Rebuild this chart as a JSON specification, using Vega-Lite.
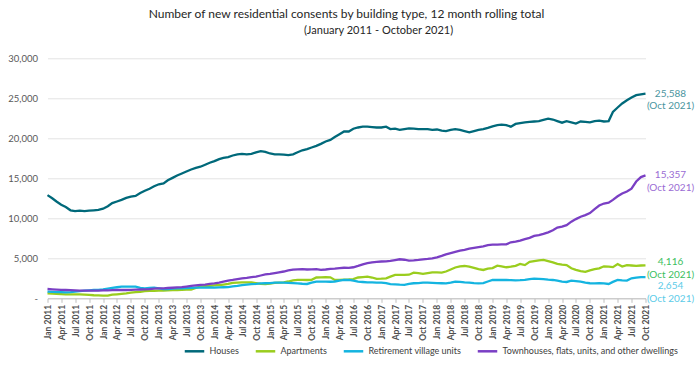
{
  "$schema": "https://vega.github.io/schema/vega-lite/v6.json",
  "width": 598,
  "height": 240,
  "autosize": "none",
  "padding": {"left": 47.5, "top": 58.3, "right": 52.5, "bottom": 77.7},
  "background": "white",
  "title": {
    "text": "Number of new residential consents by building type, 12 month rolling total",
    "subtitle": "\u2800\u2800\u2800\u2800\u2800\u2800\u2800\u2800(January 2011 - October 2021)",
    "font": "Lato",
    "fontSize": 12,
    "fontWeight": "normal",
    "color": "#262626",
    "subtitleFont": "Lato",
    "subtitleFontSize": 11,
    "subtitleColor": "#262626",
    "subtitlePadding": 4,
    "anchor": "middle",
    "offset": 16
  },
  "config": {
    "view": {"stroke": null},
    "font": "Lato"
  },
  "datasets": {
    "main": [
      {"d":"2011-01-01","H":12900,"A":620,"R":830,"T":1160},
      {"d":"2011-02-01","H":12500,"A":590,"R":800,"T":1120},
      {"d":"2011-03-01","H":12100,"A":560,"R":780,"T":1090},
      {"d":"2011-04-01","H":11700,"A":530,"R":760,"T":1060},
      {"d":"2011-05-01","H":11400,"A":500,"R":750,"T":1040},
      {"d":"2011-06-01","H":11000,"A":500,"R":780,"T":1010},
      {"d":"2011-07-01","H":10900,"A":500,"R":830,"T":980},
      {"d":"2011-08-01","H":10950,"A":500,"R":900,"T":960},
      {"d":"2011-09-01","H":10900,"A":470,"R":950,"T":955},
      {"d":"2011-10-01","H":10950,"A":420,"R":1000,"T":960},
      {"d":"2011-11-01","H":11000,"A":380,"R":1040,"T":960},
      {"d":"2011-12-01","H":11050,"A":370,"R":1040,"T":955},
      {"d":"2012-01-01","H":11200,"A":340,"R":1100,"T":980},
      {"d":"2012-02-01","H":11500,"A":330,"R":1200,"T":1000},
      {"d":"2012-03-01","H":11900,"A":450,"R":1300,"T":1020},
      {"d":"2012-04-01","H":12100,"A":500,"R":1380,"T":1040},
      {"d":"2012-05-01","H":12300,"A":560,"R":1460,"T":1040},
      {"d":"2012-06-01","H":12550,"A":620,"R":1460,"T":1040},
      {"d":"2012-07-01","H":12700,"A":700,"R":1460,"T":1050},
      {"d":"2012-08-01","H":12800,"A":760,"R":1450,"T":1080},
      {"d":"2012-09-01","H":13150,"A":820,"R":1300,"T":1100},
      {"d":"2012-10-01","H":13450,"A":900,"R":1250,"T":1120},
      {"d":"2012-11-01","H":13700,"A":920,"R":1300,"T":1150},
      {"d":"2012-12-01","H":14000,"A":940,"R":1330,"T":1200},
      {"d":"2013-01-01","H":14250,"A":950,"R":1250,"T":1230},
      {"d":"2013-02-01","H":14350,"A":960,"R":1150,"T":1250},
      {"d":"2013-03-01","H":14750,"A":990,"R":1140,"T":1290},
      {"d":"2013-04-01","H":15050,"A":1020,"R":1200,"T":1320},
      {"d":"2013-05-01","H":15350,"A":1040,"R":1240,"T":1360},
      {"d":"2013-06-01","H":15600,"A":1050,"R":1250,"T":1390},
      {"d":"2013-07-01","H":15850,"A":1080,"R":1270,"T":1470},
      {"d":"2013-08-01","H":16100,"A":1100,"R":1300,"T":1540},
      {"d":"2013-09-01","H":16300,"A":1300,"R":1330,"T":1620},
      {"d":"2013-10-01","H":16450,"A":1460,"R":1330,"T":1680},
      {"d":"2013-11-01","H":16700,"A":1520,"R":1340,"T":1720},
      {"d":"2013-12-01","H":16950,"A":1560,"R":1350,"T":1790},
      {"d":"2014-01-01","H":17150,"A":1620,"R":1330,"T":1870},
      {"d":"2014-02-01","H":17400,"A":1660,"R":1360,"T":1970},
      {"d":"2014-03-01","H":17550,"A":1720,"R":1380,"T":2080},
      {"d":"2014-04-01","H":17650,"A":1790,"R":1400,"T":2200},
      {"d":"2014-05-01","H":17850,"A":1920,"R":1500,"T":2290},
      {"d":"2014-06-01","H":18000,"A":1960,"R":1560,"T":2400},
      {"d":"2014-07-01","H":18050,"A":2000,"R":1650,"T":2500},
      {"d":"2014-08-01","H":18000,"A":2000,"R":1700,"T":2560},
      {"d":"2014-09-01","H":18050,"A":1980,"R":1760,"T":2650},
      {"d":"2014-10-01","H":18250,"A":1900,"R":1800,"T":2720},
      {"d":"2014-11-01","H":18400,"A":1800,"R":1870,"T":2850},
      {"d":"2014-12-01","H":18300,"A":1780,"R":1880,"T":2980},
      {"d":"2015-01-01","H":18100,"A":1850,"R":1900,"T":3050},
      {"d":"2015-02-01","H":18000,"A":1920,"R":1950,"T":3150},
      {"d":"2015-03-01","H":18000,"A":1960,"R":1960,"T":3250},
      {"d":"2015-04-01","H":17950,"A":2000,"R":1970,"T":3350},
      {"d":"2015-05-01","H":17900,"A":2100,"R":1940,"T":3480},
      {"d":"2015-06-01","H":18000,"A":2250,"R":1900,"T":3580},
      {"d":"2015-07-01","H":18250,"A":2300,"R":1870,"T":3620},
      {"d":"2015-08-01","H":18500,"A":2300,"R":1820,"T":3640},
      {"d":"2015-09-01","H":18650,"A":2290,"R":1790,"T":3600},
      {"d":"2015-10-01","H":18850,"A":2300,"R":1950,"T":3620},
      {"d":"2015-11-01","H":19050,"A":2600,"R":2080,"T":3640},
      {"d":"2015-12-01","H":19300,"A":2620,"R":2080,"T":3560},
      {"d":"2016-01-01","H":19600,"A":2640,"R":2080,"T":3600},
      {"d":"2016-02-01","H":19800,"A":2620,"R":2070,"T":3680},
      {"d":"2016-03-01","H":20150,"A":2300,"R":2100,"T":3720},
      {"d":"2016-04-01","H":20500,"A":2300,"R":2200,"T":3780},
      {"d":"2016-05-01","H":20850,"A":2320,"R":2290,"T":3820},
      {"d":"2016-06-01","H":20850,"A":2350,"R":2290,"T":3800},
      {"d":"2016-07-01","H":21200,"A":2400,"R":2200,"T":3880},
      {"d":"2016-08-01","H":21350,"A":2600,"R":2080,"T":4050},
      {"d":"2016-09-01","H":21450,"A":2650,"R":2040,"T":4250},
      {"d":"2016-10-01","H":21450,"A":2700,"R":2000,"T":4400},
      {"d":"2016-11-01","H":21400,"A":2600,"R":1980,"T":4500},
      {"d":"2016-12-01","H":21350,"A":2420,"R":1960,"T":4560},
      {"d":"2017-01-01","H":21350,"A":2450,"R":1960,"T":4600},
      {"d":"2017-02-01","H":21450,"A":2500,"R":1900,"T":4620},
      {"d":"2017-03-01","H":21150,"A":2700,"R":1760,"T":4680},
      {"d":"2017-04-01","H":21200,"A":2920,"R":1740,"T":4780},
      {"d":"2017-05-01","H":21050,"A":2930,"R":1700,"T":4880},
      {"d":"2017-06-01","H":21150,"A":2920,"R":1680,"T":4820},
      {"d":"2017-07-01","H":21250,"A":2950,"R":1800,"T":4720},
      {"d":"2017-08-01","H":21200,"A":3200,"R":1880,"T":4750},
      {"d":"2017-09-01","H":21150,"A":3150,"R":1900,"T":4800},
      {"d":"2017-10-01","H":21150,"A":3050,"R":1950,"T":4870},
      {"d":"2017-11-01","H":21150,"A":3150,"R":1960,"T":4920},
      {"d":"2017-12-01","H":21050,"A":3250,"R":1930,"T":5000},
      {"d":"2018-01-01","H":21100,"A":3230,"R":1900,"T":5120},
      {"d":"2018-02-01","H":20950,"A":3210,"R":1880,"T":5300},
      {"d":"2018-03-01","H":20900,"A":3350,"R":1870,"T":5500},
      {"d":"2018-04-01","H":21050,"A":3600,"R":1950,"T":5650},
      {"d":"2018-05-01","H":21150,"A":3850,"R":2080,"T":5800},
      {"d":"2018-06-01","H":21050,"A":4000,"R":2050,"T":5950},
      {"d":"2018-07-01","H":20900,"A":4040,"R":1980,"T":6050},
      {"d":"2018-08-01","H":20750,"A":3950,"R":1960,"T":6200},
      {"d":"2018-09-01","H":20900,"A":3800,"R":1900,"T":6300},
      {"d":"2018-10-01","H":21050,"A":3650,"R":1870,"T":6400},
      {"d":"2018-11-01","H":21150,"A":3540,"R":1900,"T":6500},
      {"d":"2018-12-01","H":21300,"A":3700,"R":2100,"T":6650},
      {"d":"2019-01-01","H":21500,"A":3780,"R":2290,"T":6700},
      {"d":"2019-02-01","H":21650,"A":4080,"R":2290,"T":6720},
      {"d":"2019-03-01","H":21700,"A":4000,"R":2290,"T":6740},
      {"d":"2019-04-01","H":21650,"A":3880,"R":2290,"T":6750},
      {"d":"2019-05-01","H":21450,"A":3950,"R":2270,"T":7000},
      {"d":"2019-06-01","H":21800,"A":4050,"R":2250,"T":7080},
      {"d":"2019-07-01","H":21900,"A":4290,"R":2260,"T":7200},
      {"d":"2019-08-01","H":22000,"A":4150,"R":2290,"T":7400},
      {"d":"2019-09-01","H":22050,"A":4550,"R":2400,"T":7550},
      {"d":"2019-10-01","H":22100,"A":4650,"R":2460,"T":7800},
      {"d":"2019-11-01","H":22150,"A":4750,"R":2440,"T":7900},
      {"d":"2019-12-01","H":22300,"A":4800,"R":2400,"T":8050},
      {"d":"2020-01-01","H":22450,"A":4650,"R":2330,"T":8250},
      {"d":"2020-02-01","H":22350,"A":4500,"R":2290,"T":8500},
      {"d":"2020-03-01","H":22150,"A":4300,"R":2200,"T":8850},
      {"d":"2020-04-01","H":21950,"A":4200,"R":2080,"T":8960},
      {"d":"2020-05-01","H":22150,"A":4150,"R":2040,"T":9150},
      {"d":"2020-06-01","H":22000,"A":3750,"R":2200,"T":9580},
      {"d":"2020-07-01","H":21850,"A":3550,"R":2150,"T":9900},
      {"d":"2020-08-01","H":22100,"A":3400,"R":2080,"T":10200},
      {"d":"2020-09-01","H":22050,"A":3300,"R":1950,"T":10400},
      {"d":"2020-10-01","H":22000,"A":3500,"R":1880,"T":10650},
      {"d":"2020-11-01","H":22150,"A":3650,"R":1870,"T":11150},
      {"d":"2020-12-01","H":22200,"A":3750,"R":1880,"T":11600},
      {"d":"2021-01-01","H":22100,"A":4000,"R":1870,"T":11850},
      {"d":"2021-02-01","H":22150,"A":3950,"R":1790,"T":11950},
      {"d":"2021-03-01","H":23300,"A":3900,"R":2050,"T":12300},
      {"d":"2021-04-01","H":23850,"A":4290,"R":2290,"T":12750},
      {"d":"2021-05-01","H":24350,"A":3960,"R":2230,"T":13100},
      {"d":"2021-06-01","H":24750,"A":4150,"R":2210,"T":13350},
      {"d":"2021-07-01","H":25100,"A":4100,"R":2500,"T":13700},
      {"d":"2021-08-01","H":25400,"A":4050,"R":2580,"T":14600},
      {"d":"2021-09-01","H":25500,"A":4100,"R":2640,"T":15150},
      {"d":"2021-10-01","H":25588,"A":4116,"R":2654,"T":15357}
    ],
    "ends": [
      {"s":"H","d":"2021-10-01","v":25588,"lbl":"25,588\n(Oct 2021)"},
      {"s":"T","d":"2021-10-01","v":15357,"lbl":"15,357\n(Oct 2021)"},
      {"s":"A","d":"2021-10-01","v":4116,"lbl":"4,116\n(Oct 2021)"},
      {"s":"R","d":"2021-10-01","v":2654,"lbl":"2,654\n(Oct 2021)"}
    ]
  },
  "encoding": {
    "x": {
      "field": "d",
      "timeUnit": "utcyearmonth",
      "type": "temporal",
      "scale": {"nice": false},
      "axis": {
        "title": null,
        "format": "%b %Y",
        "tickCount": {"interval": "month", "step": 3},
        "labelAngle": -90,
        "labelFont": "Lato",
        "labelFontSize": 8.5,
        "labelFontWeight": "bold",
        "labelColor": "#505050",
        "labelFlush": false,
        "labelOverlap": false,
        "labelPadding": 2,
        "domainColor": "#bfbfbf",
        "tickColor": "#bfbfbf",
        "tickSize": 4,
        "grid": false
      }
    },
    "y": {
      "field": "v",
      "type": "quantitative",
      "scale": {"domain": [0, 30000], "nice": false},
      "axis": {
        "title": null,
        "values": [0, 5000, 10000, 15000, 20000, 25000, 30000],
        "labelExpr": "datum.value === 0 ? '-\u00a0\u00a0' : format(datum.value, ',')",
        "labelFont": "Lato",
        "labelFontSize": 9.5,
        "labelColor": "#595959",
        "labelPadding": 10,
        "domain": false,
        "ticks": false,
        "grid": true,
        "gridColor": "#e3e3e3",
        "gridWidth": 1
      }
    }
  },
  "layer": [
    {
      "data": {"name": "main"},
      "transform": [{"fold": ["H", "A", "R", "T"], "as": ["s", "v"]}],
      "mark": {"type": "line", "strokeWidth": 2.3},
      "encoding": {
        "color": {
          "field": "s",
          "type": "nominal",
          "scale": {"domain": ["H", "A", "R", "T"], "range": ["#00697a", "#9acd1e", "#14b4e0", "#7a3fc4"]},
          "legend": {
            "title": null,
            "orient": "none",
            "direction": "horizontal",
            "legendX": 136,
            "legendY": 282,
            "symbolType": "stroke",
            "symbolStrokeWidth": 2.5,
            "symbolSize": 380,
            "columnPadding": 11,
            "labelFont": "Lato",
            "labelFontSize": 9,
            "labelColor": "#404040",
            "labelLimit": 300,
            "labelExpr": "datum.label === 'H' ? 'Houses' : datum.label === 'A' ? 'Apartments' : datum.label === 'R' ? 'Retirement village units' : 'Townhouses, flats, units, and other dwellings'"
          }
        }
      }
    },
    {
      "data": {"name": "ends"},
      "transform": [{"filter": "datum.s === 'H'"}],
      "mark": {"type": "text", "lineBreak": "\n", "dx": 25, "dy": 0, "align": "center", "baseline": "middle", "font": "Lato", "fontSize": 10, "lineHeight": 12.5, "color": "#4a95a0"},
      "encoding": {"text": {"field": "lbl", "type": "nominal"}}
    },
    {
      "data": {"name": "ends"},
      "transform": [{"filter": "datum.s === 'T'"}],
      "mark": {"type": "text", "lineBreak": "\n", "dx": 25, "dy": 0, "align": "center", "baseline": "middle", "font": "Lato", "fontSize": 10, "lineHeight": 12.5, "color": "#9a6cd4"},
      "encoding": {"text": {"field": "lbl", "type": "nominal"}}
    },
    {
      "data": {"name": "ends"},
      "transform": [{"filter": "datum.s === 'A'"}],
      "mark": {"type": "text", "lineBreak": "\n", "dx": 25, "dy": -3, "align": "center", "baseline": "middle", "font": "Lato", "fontSize": 10, "lineHeight": 12.5, "color": "#3cc060"},
      "encoding": {"text": {"field": "lbl", "type": "nominal"}}
    },
    {
      "data": {"name": "ends"},
      "transform": [{"filter": "datum.s === 'R'"}],
      "mark": {"type": "text", "lineBreak": "\n", "dx": 25, "dy": 9, "align": "center", "baseline": "middle", "font": "Lato", "fontSize": 10, "lineHeight": 12.5, "color": "#5ccbe8"},
      "encoding": {"text": {"field": "lbl", "type": "nominal"}}
    }
  ]
}
